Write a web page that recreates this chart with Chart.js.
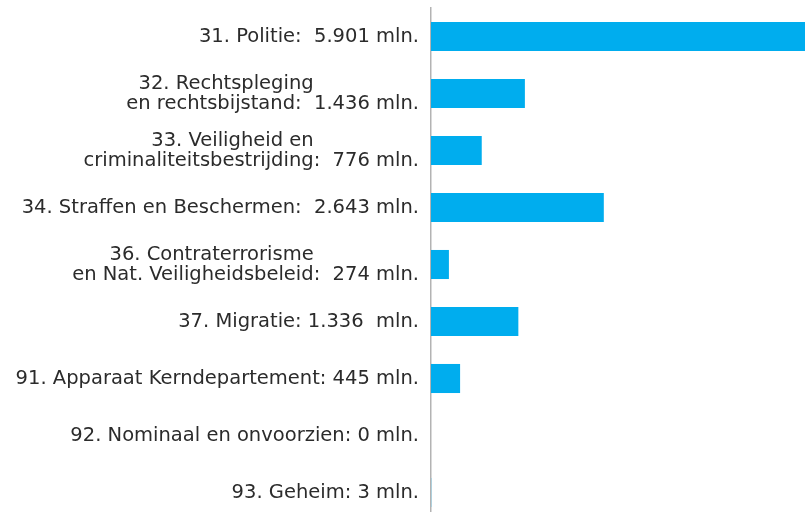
<!DOCTYPE html>
<html>
<head>
<meta charset="utf-8">
<script src="https://cdn.jsdelivr.net/npm/chart.js@4"></script>
<style>
  html, body { margin: 0; padding: 0; background: #fff; overflow: hidden; }
  #wrap { position: relative; width: 805px; height: 521px; }
</style>
</head>
<body>
<div id="wrap"><canvas id="budgetChart"></canvas></div>
<script>
// Begroting per artikel (bedragen in mln. euro)
const categories = [
    '31. Politie:  5.901 mln.',
    ['32. Rechtspleging', 'en rechtsbijstand:  1.436 mln.'],
    ['33. Veiligheid en', 'criminaliteitsbestrijding:  776 mln.'],
    '34. Straffen en Beschermen:  2.643 mln.',
    ['36. Contraterrorisme', 'en Nat. Veiligheidsbeleid:  274 mln.'],
    '37. Migratie: 1.336  mln.',
    '91. Apparaat Kerndepartement: 445 mln.',
    '92. Nominaal en onvoorzien: 0 mln.',
    '93. Geheim: 3 mln.'
];
const amounts = [5901, 1436, 776, 2643, 274, 1336, 445, 0, 3];

// first line of a two-line label sits a bit left of the second one
const FIRST_LINE_PAD = ' '.repeat(17);

const ctx = document.getElementById('budgetChart').getContext('2d');

new Chart(ctx, {
    type: 'bar',
    data: {
        labels: categories,
        datasets: [{
            data: amounts,
            backgroundColor: '#00adee',
            borderWidth: 0,
            categoryPercentage: 1,
            barPercentage: 0.51
        }]
    },
    options: {
        indexAxis: 'y',
        responsive: true,
        maintainAspectRatio: false,
        animation: false,
        layout: { autoPadding: false, padding: { top: 8, left: 0, right: 0, bottom: 0 } },
        plugins: {
            legend: { display: false },
            tooltip: { enabled: false }
        },
        scales: {
            x: {
                display: false,
                min: 0,
                max: 5720
            },
            y: {
                grid: { display: false, drawTicks: false },
                border: { display: true, color: '#b3b3b3', width: 1.5 },
                ticks: {
                    padding: 12,
                    color: '#2b2b2b',
                    crossAlign: 'near',
                    autoSkip: false,
                    font: { family: 'DejaVu Sans', size: 19.5, lineHeight: 1.03 },
                    callback: function(value, index) {
                        const label = categories[index];
                        return Array.isArray(label) ? [label[0] + FIRST_LINE_PAD, label[1]] : label;
                    }
                },
                afterFit: function(scale) {
                    scale.width = 431;
                    scale.paddingTop = 0;
                    scale.paddingBottom = 0;
                }
            }
        }
    }
});
</script>
</body>
</html>
